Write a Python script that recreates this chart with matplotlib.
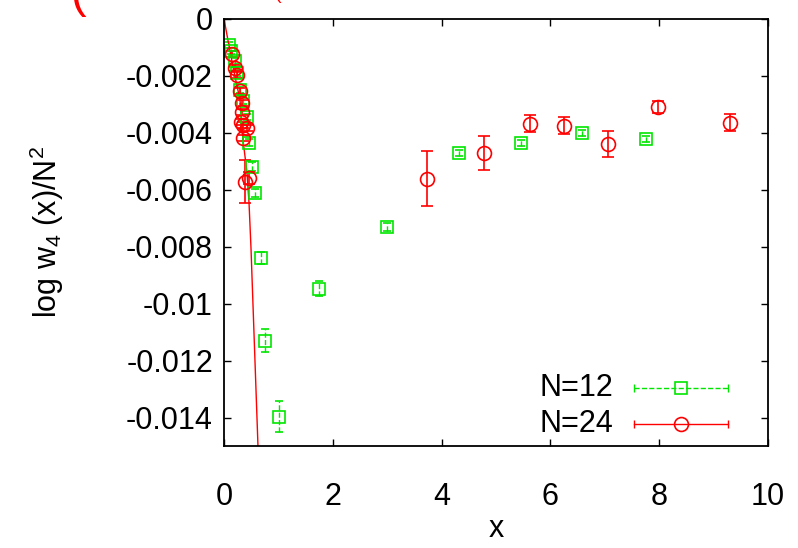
import matplotlib
matplotlib.use("Agg")
import matplotlib.pyplot as plt

plt.rcParams['font.family'] = ['Liberation Sans', 'DejaVu Sans']
plt.rcParams['mathtext.fontset'] = 'custom'
plt.rcParams['mathtext.rm'] = 'Liberation Sans'
plt.rcParams['mathtext.it'] = 'Liberation Sans'

# N=12 (green squares)
x12 = [0.09, 0.13, 0.20, 0.24, 0.29, 0.35, 0.42, 0.46, 0.51, 0.57, 0.68, 0.75, 1.01,
       1.75, 3.00, 4.32, 5.46, 6.58, 7.76]
y12 = [-0.00091, -0.00112, -0.00147, -0.00189, -0.00249, -0.00288, -0.00344, -0.00435,
       -0.00519, -0.00611, -0.00839, -0.01130, -0.01397,
       -0.00947, -0.00730, -0.00470, -0.00435, -0.00400, -0.00421]
e12 = [0.0001, 0.0001, 0.0001, 0.0001, 0.0001, 0.0001, 0.0001, 0.00012, 0.00015, 0.00015,
       0.0002, 0.0004, 0.00055, 0.00025, 0.00015, 0.0001, 0.0001, 0.0001, 0.0001]

# N=24 (red circles)
x24 = [0.15, 0.20, 0.24, 0.29, 0.33, 0.33, 0.31, 0.35, 0.42, 0.35, 0.46, 0.39,
       3.73, 4.78, 5.63, 6.25, 7.06, 7.98, 9.30]
y24 = [-0.00123, -0.00172, -0.00197, -0.00253, -0.00295, -0.00326, -0.00361, -0.00372,
       -0.00382, -0.00418, -0.00558, -0.00572,
       -0.00561, -0.00470, -0.00368, -0.00375, -0.00439, -0.00309, -0.00365]
e24 = [0.0001, 0.0001, 0.0001, 0.0001, 0.0001, 0.0001, 0.0001, 0.0001, 0.0001, 0.00012,
       0.0002, 0.00075, 0.00097, 0.0006, 0.0003, 0.0003, 0.00045, 0.0002, 0.0003]

# fit line for N=24
fit_x = [0.0, 0.165, 0.294, 0.349, 0.423, 0.46, 0.496, 0.625, 0.70]
fit_y = [0.0, -0.00168, -0.00284, -0.00425, -0.0054, -0.00646, -0.00804, -0.01502, -0.0191]

green = '#00e600'
red = '#ff0000'

fig = plt.figure(figsize=(7.98, 5.48), dpi=100)
ax = fig.add_axes([224/798, 1 - 446/548, 544/798, 427/548])

eb = ax.errorbar(x12, y12, yerr=e12, fmt='s', ms=9, mfc='none', mec=green, mew=1.2,
                 ecolor=green, elinewidth=1, capsize=3, capthick=1)
eb[2][0].set_linestyle('--')
ax.errorbar(x24, y24, yerr=e24, fmt='o', ms=10, mfc='none', mec=red, mew=1.2,
            ecolor=red, elinewidth=1.2, capsize=4, capthick=1.2)
ax.plot(fit_x, fit_y, color=red, lw=1)

ax.set_xlim(0, 10)
ax.set_ylim(-0.015, 0)
ax.set_xticks([0, 2, 4, 6, 8, 10])
ax.set_yticks([0, -0.002, -0.004, -0.006, -0.008, -0.01, -0.012, -0.014])
ax.set_yticklabels(['0', '-0.002', '-0.004', '-0.006', '-0.008', '-0.01', '-0.012', '-0.014'])
ax.tick_params(direction='in', length=5, width=1, top=True, right=True, labelsize=22)
ax.tick_params(axis='x', pad=26)
ax.tick_params(axis='y', pad=8)
for s in ax.spines.values():
    s.set_linewidth(1.3)

ax.set_xlabel('x', fontsize=22)
ax.xaxis.set_label_coords(0.5, -0.16)
ax.set_ylabel(r'log w$_4$ (x)/N$^2$', fontsize=22)
ax.yaxis.set_label_coords(-0.29, 0.5)

# legend drawn gnuplot style
tr = ax.transAxes
for yy, lab, col, mk, ls in [(0.136, 'N=12', green, 's', '--'), (0.0515, 'N=24', red, 'o', '-')]:
    ax.text(0.715, yy, lab, transform=tr, ha='right', va='center', fontsize=22)
    ax.plot([0.754, 0.926], [yy, yy], transform=tr, color=col, lw=1, ls=ls, clip_on=False)
    ax.plot([0.754, 0.926], [yy, yy], transform=tr, color=col, lw=0, marker='|', ms=6, clip_on=False)
    ax.plot([0.84], [yy], transform=tr, color=col, marker=mk, ms=9 if mk == 's' else 10,
            mfc='none', mew=1.2, clip_on=False)

# clipped red title remnants at the top (cut off in the original too)
fig.text(70/798, 1 - 17/548, '(', color=red, fontsize=34, va='bottom')
fig.text(275/798, 1 - 3/548, '(', color=red, fontsize=14, va='bottom')

fig.savefig('out.png', dpi=100)
